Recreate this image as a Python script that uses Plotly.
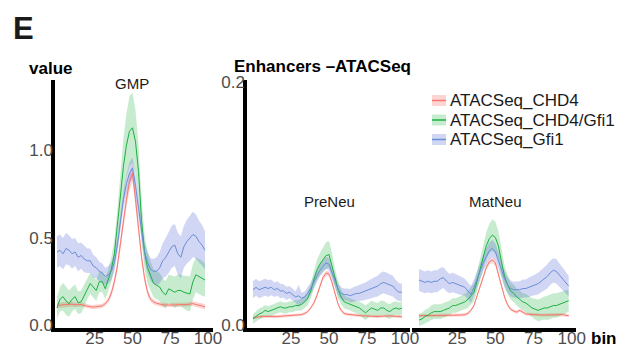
import plotly.graph_objects as go

W, H = 623, 348

BINS = [0, 2, 4, 6, 8, 10, 12, 14, 16, 18, 20, 22, 24, 26, 28, 30, 32, 34, 36, 38,
        40, 42, 44, 46, 48, 50, 52, 54, 56, 58, 60, 62, 64, 66, 68, 70, 72, 74, 76, 78,
        80, 82, 84, 86, 88, 90, 92, 94, 96, 98]

SERIES = ["ATACSeq_CHD4", "ATACSeq_CHD4/Gfi1", "ATACSeq_Gfi1"]
PANELS = ["GMP", "PreNeu", "MatNeu"]
X_TICKS = [25, 50, 75, 100]
Y_TICKS_GMP = [0.0, 0.5, 1.0]
Y_TICKS_NEU = [0.0, 0.2]

# ---- GMP ----
GMP_CHD4 = [0.115, 0.117, 0.12, 0.118, 0.12, 0.122, 0.118, 0.12, 0.12, 0.115,
            0.11, 0.107, 0.105, 0.107, 0.108, 0.112, 0.125, 0.145, 0.185, 0.25,
            0.34, 0.47, 0.60, 0.72, 0.82, 0.87, 0.72, 0.55, 0.39, 0.27,
            0.19, 0.15, 0.135, 0.127, 0.122, 0.118, 0.117, 0.115, 0.117, 0.118,
            0.118, 0.117, 0.118, 0.12, 0.122, 0.125, 0.12, 0.117, 0.112, 0.107]
GMP_CHD4_SE = [0.015, 0.015, 0.015, 0.015, 0.015, 0.015, 0.012, 0.012, 0.012, 0.012,
               0.012, 0.012, 0.012, 0.012, 0.012, 0.012, 0.012, 0.015, 0.02, 0.025,
               0.03, 0.035, 0.04, 0.045, 0.05, 0.05, 0.045, 0.04, 0.03, 0.025,
               0.02, 0.015, 0.013, 0.012, 0.012, 0.012, 0.012, 0.012, 0.012, 0.012,
               0.012, 0.012, 0.012, 0.012, 0.012, 0.013, 0.014, 0.015, 0.015, 0.015]
GMP_BOTH = [0.10, 0.15, 0.165, 0.14, 0.125, 0.15, 0.165, 0.13, 0.135, 0.17,
            0.21, 0.24, 0.22, 0.20, 0.25, 0.25, 0.21, 0.26, 0.32, 0.41,
            0.56, 0.74, 0.91, 1.03, 1.11, 1.13, 1.05, 0.88, 0.60, 0.42,
            0.33, 0.28, 0.24, 0.23, 0.22, 0.19, 0.175, 0.21, 0.20, 0.19,
            0.20, 0.20, 0.19, 0.185, 0.18, 0.25, 0.29, 0.28, 0.27, 0.26]
GMP_BOTH_SE = [0.06, 0.07, 0.08, 0.08, 0.075, 0.07, 0.07, 0.065, 0.065, 0.065,
               0.06, 0.06, 0.06, 0.06, 0.06, 0.06, 0.06, 0.06, 0.07, 0.08,
               0.10, 0.13, 0.16, 0.18, 0.20, 0.20, 0.18, 0.15, 0.12, 0.10,
               0.09, 0.085, 0.08, 0.08, 0.08, 0.08, 0.08, 0.08, 0.085, 0.09,
               0.09, 0.09, 0.095, 0.10, 0.10, 0.10, 0.10, 0.10, 0.10, 0.095]
GMP_GFI1 = [0.42, 0.43, 0.41, 0.44, 0.43, 0.41, 0.42, 0.39, 0.40, 0.38,
            0.37, 0.37, 0.34, 0.33, 0.31, 0.30, 0.28, 0.29, 0.31, 0.36,
            0.46, 0.59, 0.72, 0.81, 0.87, 0.90, 0.80, 0.67, 0.53, 0.42,
            0.36, 0.32, 0.31, 0.31, 0.33, 0.37, 0.39, 0.42, 0.45, 0.46,
            0.41, 0.39, 0.45, 0.48, 0.50, 0.52, 0.51, 0.48, 0.46, 0.43]
GMP_GFI1_SE = [0.09, 0.09, 0.09, 0.09, 0.085, 0.085, 0.08, 0.08, 0.075, 0.075,
               0.07, 0.07, 0.065, 0.06, 0.055, 0.055, 0.05, 0.05, 0.05, 0.05,
               0.05, 0.05, 0.05, 0.055, 0.06, 0.06, 0.06, 0.06, 0.055, 0.05,
               0.06, 0.065, 0.07, 0.08, 0.09, 0.10, 0.11, 0.12, 0.12, 0.12,
               0.12, 0.12, 0.12, 0.125, 0.13, 0.13, 0.125, 0.12, 0.115, 0.11]

# ---- PreNeu ----
PRE_CHD4 = [0.006, 0.0065, 0.0065, 0.007, 0.007, 0.0068, 0.0068, 0.007, 0.007, 0.0072,
            0.0072, 0.0072, 0.0072, 0.0075, 0.0078, 0.008, 0.0085, 0.0095, 0.011, 0.014,
            0.018, 0.024, 0.032, 0.039, 0.0425, 0.042, 0.035, 0.026, 0.017, 0.012,
            0.0095, 0.0088, 0.0085, 0.008, 0.0078, 0.0076, 0.0075, 0.0075, 0.0072, 0.007,
            0.007, 0.007, 0.0072, 0.0075, 0.0075, 0.0075, 0.0072, 0.007, 0.007, 0.0068]
PRE_CHD4_SE = [0.0012, 0.0012, 0.0012, 0.0012, 0.0012, 0.0012, 0.0012, 0.0012, 0.0012, 0.0012,
               0.0012, 0.0012, 0.0012, 0.0012, 0.0012, 0.0012, 0.0012, 0.0012, 0.0012, 0.0012,
               0.0015, 0.0018, 0.002, 0.0022, 0.0022, 0.0022, 0.002, 0.0018, 0.0015, 0.0013,
               0.0012, 0.0012, 0.0012, 0.0012, 0.0012, 0.0012, 0.0012, 0.0012, 0.0012, 0.0012,
               0.0012, 0.0012, 0.0012, 0.0012, 0.0012, 0.0012, 0.0012, 0.0012, 0.0012, 0.0012]
PRE_BOTH = [0.005, 0.007, 0.009, 0.010, 0.012, 0.011, 0.012, 0.013, 0.014, 0.015,
            0.014, 0.014, 0.015, 0.015, 0.016, 0.016, 0.017, 0.019, 0.022, 0.028,
            0.037, 0.045, 0.050, 0.054, 0.057, 0.058, 0.049, 0.038, 0.029, 0.023,
            0.019, 0.018, 0.017, 0.016, 0.015, 0.014, 0.012, 0.010, 0.012, 0.014,
            0.013, 0.012, 0.014, 0.014, 0.012, 0.011, 0.013, 0.014, 0.013, 0.014]
PRE_BOTH_SE = [0.004, 0.004, 0.0045, 0.0045, 0.0045, 0.0045, 0.0045, 0.0045, 0.0045, 0.0045,
               0.0045, 0.0045, 0.0045, 0.0045, 0.0045, 0.0045, 0.005, 0.005, 0.0055, 0.006,
               0.007, 0.008, 0.009, 0.010, 0.011, 0.011, 0.010, 0.008, 0.007, 0.006,
               0.0055, 0.005, 0.005, 0.005, 0.005, 0.0055, 0.006, 0.006, 0.006, 0.006,
               0.006, 0.006, 0.006, 0.006, 0.006, 0.006, 0.006, 0.0055, 0.0055, 0.0055]
PRE_GFI1 = [0.029, 0.031, 0.029, 0.030, 0.031, 0.030, 0.031, 0.029, 0.030, 0.028,
            0.028, 0.026, 0.027, 0.025, 0.023, 0.024, 0.022, 0.023, 0.026, 0.030,
            0.035, 0.040, 0.045, 0.048, 0.051, 0.050, 0.043, 0.035, 0.029, 0.026,
            0.025, 0.025, 0.024, 0.025, 0.026, 0.026, 0.027, 0.028, 0.029, 0.030,
            0.031, 0.032, 0.034, 0.035, 0.034, 0.033, 0.032, 0.029, 0.027, 0.027]
PRE_GFI1_SE = [0.007, 0.007, 0.007, 0.007, 0.007, 0.007, 0.0065, 0.006, 0.006, 0.006,
               0.0055, 0.0055, 0.005, 0.005, 0.0045, 0.009, 0.0045, 0.0045, 0.005, 0.005,
               0.005, 0.005, 0.005, 0.005, 0.005, 0.005, 0.005, 0.005, 0.005, 0.005,
               0.005, 0.005, 0.0055, 0.006, 0.006, 0.0065, 0.007, 0.007, 0.0075, 0.008,
               0.008, 0.0085, 0.009, 0.009, 0.009, 0.009, 0.0085, 0.008, 0.0075, 0.007]

# ---- MatNeu ----
MAT_CHD4 = [0.0075, 0.0078, 0.0078, 0.0077, 0.0077, 0.0078, 0.0077, 0.0077, 0.0078, 0.008,
            0.008, 0.0082, 0.0082, 0.0082, 0.0082, 0.0085, 0.0095, 0.012, 0.016, 0.024,
            0.032, 0.040, 0.047, 0.052, 0.0535, 0.051, 0.042, 0.032, 0.023, 0.0165,
            0.013, 0.0115, 0.0105, 0.012, 0.0105, 0.009, 0.0088, 0.0085, 0.0083, 0.0082,
            0.0082, 0.0082, 0.0083, 0.0082, 0.0083, 0.0085, 0.0088, 0.0085, 0.008, 0.0077]
MAT_CHD4_SE = [0.0013, 0.0013, 0.0013, 0.0013, 0.0013, 0.0013, 0.0013, 0.0013, 0.0013, 0.0013,
               0.0013, 0.0013, 0.0013, 0.0013, 0.0013, 0.0013, 0.0013, 0.0013, 0.0013, 0.0013,
               0.0015, 0.0018, 0.002, 0.0024, 0.0025, 0.0025, 0.0024, 0.002, 0.0017, 0.0015,
               0.0013, 0.0013, 0.0013, 0.0013, 0.0013, 0.0013, 0.0013, 0.0013, 0.0013, 0.0013,
               0.0013, 0.0013, 0.0013, 0.0013, 0.0013, 0.0013, 0.0013, 0.0013, 0.0013, 0.0013]
MAT_BOTH = [0.004, 0.005, 0.007, 0.008, 0.010, 0.011, 0.011, 0.011, 0.012, 0.013,
            0.014, 0.016, 0.016, 0.017, 0.018, 0.019, 0.021, 0.024, 0.027, 0.036,
            0.045, 0.056, 0.065, 0.071, 0.074, 0.072, 0.065, 0.052, 0.040, 0.033,
            0.028, 0.026, 0.023, 0.021, 0.019, 0.018, 0.016, 0.014, 0.013, 0.012,
            0.013, 0.014, 0.014, 0.015, 0.016, 0.016, 0.017, 0.018, 0.019, 0.020]
MAT_BOTH_SE = [0.005, 0.005, 0.0055, 0.0055, 0.006, 0.006, 0.006, 0.006, 0.006, 0.006,
               0.006, 0.006, 0.006, 0.006, 0.006, 0.0065, 0.007, 0.007, 0.0075, 0.008,
               0.009, 0.010, 0.011, 0.012, 0.013, 0.013, 0.012, 0.011, 0.009, 0.008,
               0.007, 0.007, 0.007, 0.007, 0.007, 0.0075, 0.008, 0.008, 0.0085, 0.009,
               0.009, 0.0095, 0.010, 0.010, 0.010, 0.010, 0.010, 0.010, 0.0095, 0.009]
MAT_GFI1 = [0.037, 0.036, 0.035, 0.036, 0.035, 0.036, 0.036, 0.038, 0.039, 0.036,
            0.034, 0.035, 0.034, 0.033, 0.032, 0.031, 0.028, 0.025, 0.031, 0.038,
            0.044, 0.051, 0.056, 0.061, 0.063, 0.060, 0.053, 0.045, 0.038, 0.033,
            0.030, 0.029, 0.029, 0.029, 0.030, 0.030, 0.031, 0.032, 0.033, 0.034,
            0.036, 0.038, 0.040, 0.043, 0.045, 0.044, 0.041, 0.038, 0.035, 0.032]
MAT_GFI1_SE = [0.009, 0.009, 0.009, 0.009, 0.009, 0.009, 0.009, 0.009, 0.0085, 0.0085,
               0.008, 0.008, 0.008, 0.0075, 0.0075, 0.007, 0.007, 0.007, 0.0065, 0.0065,
               0.0065, 0.0065, 0.007, 0.007, 0.007, 0.007, 0.007, 0.0065, 0.0065, 0.0065,
               0.0065, 0.0065, 0.007, 0.007, 0.0075, 0.0075, 0.008, 0.008, 0.0085, 0.009,
               0.009, 0.0095, 0.010, 0.010, 0.010, 0.010, 0.0095, 0.009, 0.009, 0.0085]

DATA = {
    "GMP": [(GMP_CHD4, GMP_CHD4_SE), (GMP_BOTH, GMP_BOTH_SE), (GMP_GFI1, GMP_GFI1_SE)],
    "PreNeu": [(PRE_CHD4, PRE_CHD4_SE), (PRE_BOTH, PRE_BOTH_SE), (PRE_GFI1, PRE_GFI1_SE)],
    "MatNeu": [(MAT_CHD4, MAT_CHD4_SE), (MAT_BOTH, MAT_BOTH_SE), (MAT_GFI1, MAT_GFI1_SE)],
}

LINE_COLORS = ["#F8766D", "#1DB043", "#6A8DD8"]
FILL_COLORS = ["rgba(248,118,109,0.30)", "rgba(20,170,50,0.24)", "rgba(80,105,215,0.27)"]

FONT = "Liberation Sans, Arial, Helvetica, sans-serif"


def px(x):
    return x / W


def py(y):
    return 1 - y / H


fig = go.Figure()
axis_ids = ["", "2", "3"]
for pi, panel in enumerate(PANELS):
    xa = "x" + axis_ids[pi]
    ya = "y" + axis_ids[pi]
    for si, (mean, se) in enumerate(DATA[panel]):
        lo = [m - s for m, s in zip(mean, se)]
        hi = [m + s for m, s in zip(mean, se)]
        fig.add_trace(go.Scatter(x=BINS, y=lo, mode="lines", line=dict(width=0),
                                 xaxis=xa, yaxis=ya, showlegend=False, hoverinfo="skip"))
        fig.add_trace(go.Scatter(x=BINS, y=hi, mode="lines", line=dict(width=0),
                                 fill="tonexty", fillcolor=FILL_COLORS[si],
                                 xaxis=xa, yaxis=ya, showlegend=False, hoverinfo="skip"))
    for si, (mean, se) in enumerate(DATA[panel]):
        fig.add_trace(go.Scatter(x=BINS, y=mean, mode="lines", name=SERIES[si],
                                 line=dict(color=LINE_COLORS[si], width=1),
                                 xaxis=xa, yaxis=ya, showlegend=False))

tickfont = dict(family=FONT, size=17, color="#4d4d4d")
common_x = dict(showgrid=False, zeroline=False, showline=True, linecolor="black",
                linewidth=3.5, ticks="", tickvals=X_TICKS, tickfont=tickfont,
                automargin=False, ticklabelstandoff=-8)
common_y = dict(showgrid=False, zeroline=False, ticks="", tickfont=tickfont,
                automargin=False, ticklabelstandoff=-5)

y_dom = [py(328), py(80)]

fig.update_layout(
    template="none",
    width=W, height=H,
    margin=dict(l=0, r=0, t=0, b=0, pad=0),
    paper_bgcolor="white", plot_bgcolor="white",
    showlegend=False,
    xaxis=dict(domain=[px(55), px(213)], range=[-1.3, 103.3], anchor="y", **common_x),
    yaxis=dict(domain=y_dom, range=[-0.0143, 1.403], anchor="x", showline=True,
               linecolor="black", linewidth=3.5, tickvals=Y_TICKS_GMP,
               ticktext=["0.0", "0.5", "1.0"], **common_y),
    xaxis2=dict(domain=[px(247), px(410)], range=[-3.95, 103.3], anchor="y2", **common_x),
    yaxis2=dict(domain=y_dom, range=[-0.0025, 0.2016], anchor="x2", showline=True,
                linecolor="black", linewidth=3.5, tickvals=Y_TICKS_NEU,
                ticktext=["0.0", "0.2"], **common_y),
    xaxis3=dict(domain=[px(412), px(576)], range=[-4.6, 102.8], anchor="y3", **common_x),
    yaxis3=dict(domain=y_dom, range=[-0.0025, 0.2016], anchor="x3", showline=False,
                showticklabels=False, **common_y),
)

ann = []


def text(x, y, s, size, bold=False, xanchor="left", color="#1a1a1a"):
    ann.append(dict(x=px(x), y=py(y), xref="paper", yref="paper",
                    text=("<b>%s</b>" % s) if bold else s,
                    showarrow=False, xanchor=xanchor, yanchor="middle",
                    font=dict(family=FONT, size=size, color=color)))


text(11, 28, "E", 31, bold=True)
text(27, 68, "value", 17, bold=True, color="black")
text(232, 66, "Enhancers \u2013ATACSeq", 17, bold=True, color="black")
text(132, 83, PANELS[0], 15, xanchor="center")
text(329, 201, PANELS[1], 15, xanchor="center")
text(495, 201, PANELS[2], 15, xanchor="center")
text(589, 338, "bin", 17, bold=True, color="black")

shapes = []
legend_rows = [100.5, 120, 139.5]
for si, name in enumerate(SERIES):
    yc = legend_rows[si]
    shapes.append(dict(type="rect", xref="paper", yref="paper",
                       x0=px(432), x1=px(446), y0=py(yc + 5.5), y1=py(yc - 5.5),
                       fillcolor=FILL_COLORS[si], line=dict(width=0)))
    shapes.append(dict(type="line", xref="paper", yref="paper",
                       x0=px(432), x1=px(446), y0=py(yc), y1=py(yc),
                       line=dict(color=LINE_COLORS[si], width=1.5)))
    text(448, yc, name, 17)

fig.update_layout(annotations=ann, shapes=shapes)

fig.write_html("out.html")
